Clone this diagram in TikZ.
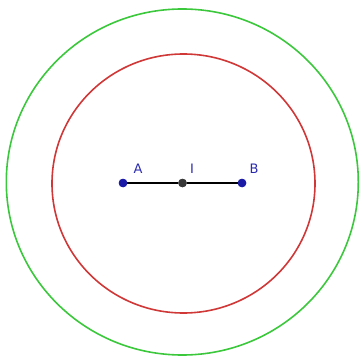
\documentclass[tikz,border=0pt]{standalone}
\usepackage{fontspec}
\setmainfont{DejaVu Sans}
\usepackage{tikz}
\usetikzlibrary{positioning}
\definecolor{CircGreen}{HTML}{3CC83C}
\definecolor{CircRed}{HTML}{D03838}
\definecolor{PointBlue}{HTML}{1A1AA6}
\definecolor{PointGray}{HTML}{383838}
\definecolor{LabelBlue}{HTML}{2A2AB0}

\tikzset{
  pt/.style={circle,fill=#1,inner sep=0pt,minimum size=8.5pt},
  ptlabel/.style={LabelBlue,font=\fontsize{13}{13}\selectfont,inner sep=0pt}
}

\begin{document}
\begin{tikzpicture}[x=1pt,y=-1pt]
  \useasboundingbox (0,0) rectangle (361,363);
  \draw[CircGreen,line width=1.6pt] (182.3,182) ellipse (176 and 173);
  \draw[CircRed,line width=1.6pt] (183.5,183.5) ellipse (131.5 and 129.5);
  \node[pt=PointBlue] (A) at (123,183) {};
  \node[pt=PointGray] (I) at (182.5,183) {};
  \node[pt=PointBlue] (B) at (242,183) {};
  \draw[black,line width=1.2pt] (A) -- (I) -- (B);
  \node[pt=PointBlue] at (A) {};
  \node[pt=PointGray] at (I) {};
  \node[pt=PointBlue] at (B) {};
  \node[ptlabel] (labA) at (138,169) {A};
  \node[ptlabel] (labI) at (192,169) {I};
  \node[ptlabel] (labB) at (254,169) {B};
\end{tikzpicture}
\end{document}
